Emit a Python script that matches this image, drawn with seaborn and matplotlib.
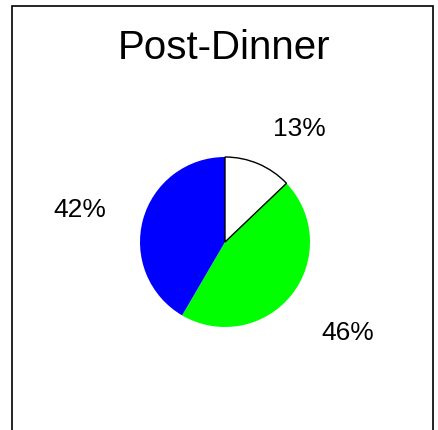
import matplotlib
matplotlib.use("Agg")
import matplotlib.pyplot as plt
import matplotlib.patches as mpatches
import seaborn as sns

sns.set_style("white")
plt.rcParams["font.family"] = ["Liberation Sans", "DejaVu Sans"]
plt.rcParams["text.color"] = "black"

title = "Post-Dinner"
values = [13, 46, 42]
colors = ["#ffffff", "#00ff00", "#0000ff"]
labels = [f"{v}%" for v in values]

fig = plt.figure(figsize=(4.38, 4.30), dpi=100)

# outer frame (bottom edge runs off the image)
fig.patches.append(mpatches.Rectangle((11.5 / 438, -0.1), 421 / 438, 1 - 6.5 / 430 + 0.1,
                                      transform=fig.transFigure, fill=False,
                                      edgecolor="black", linewidth=1.2))

fig.text(224 / 438, 1 - 48 / 430, title, ha="center", va="center",
         fontsize=29, color="black")

ax = fig.add_axes([140 / 438, 103 / 430, 170 / 438, 170 / 430])
wedges, texts = ax.pie(values, labels=labels, colors=colors, startangle=90,
                       counterclock=False, labeldistance=1.45,
                       wedgeprops={"linewidth": 0},
                       textprops={"fontsize": 19, "color": "black"})
# only the white slice gets an outline
wedges[0].set_edgecolor("black")
wedges[0].set_linewidth(1.0)
wedges[0].set_zorder(5)

# the 46% label sits a little lower in the original
x, y = texts[1].get_position()
texts[1].set_position((x, y - 0.17))

ax.set_xlim(-1, 1)
ax.set_ylim(-1, 1)
ax.axis("off")

fig.savefig("out.png", dpi=100)
